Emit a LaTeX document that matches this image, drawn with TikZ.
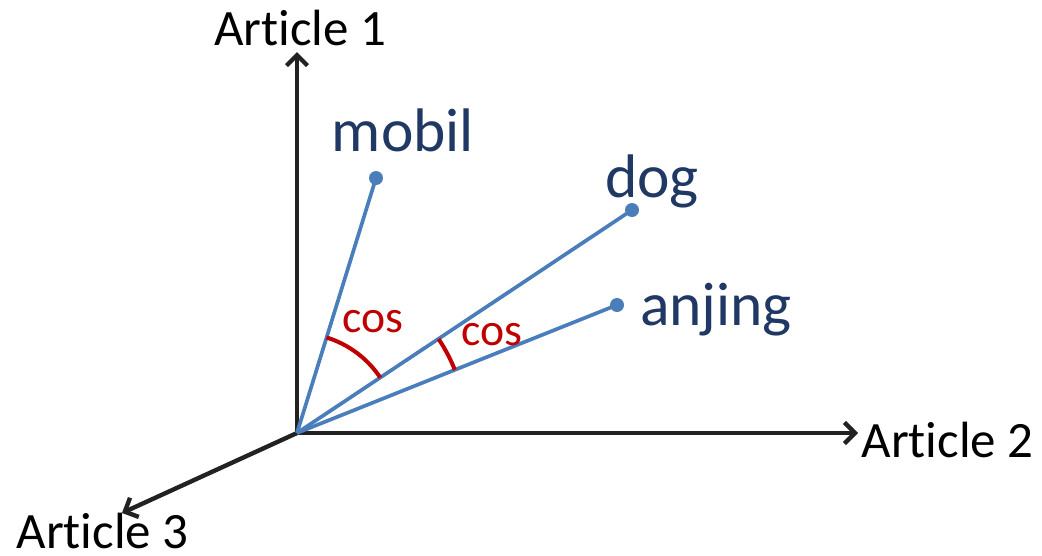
\documentclass[tikz,border=0pt]{standalone}
\usepackage{fontspec}
\setmainfont{Carlito}[Ligatures={NoCommon}]
\usetikzlibrary{arrows.meta}
\definecolor{vecblue}{RGB}{74,126,187}
\definecolor{wordblue}{RGB}{31,56,100}
\definecolor{cosred}{RGB}{192,0,0}
\tikzset{
  axis/.style={line width=2.5pt, draw={rgb,255:red,34;green,34;blue,34}, -{Straight Barb[length=6pt,width=12pt]}},
  vec/.style={line width=2.1pt, vecblue},
  wordlbl/.style={anchor=base, text=wordblue, font=\fontsize{35}{36}\selectfont, inner sep=0pt},
  axlbl/.style={anchor=base, font=\fontsize{29}{30}\selectfont, inner sep=0pt},
  coslbl/.style={anchor=base, text=cosred, font=\fontsize{26}{27}\selectfont, inner sep=0pt},
  angarc/.style={line width=2.3pt, cosred}
}
\begin{document}
\begin{tikzpicture}
    \useasboundingbox (-5.94,-2.44) rectangle (14.9,8.66);

    % axes
    \coordinate (o) at (0,0);
    \coordinate (a1) at (0,7.62);
    \coordinate (a2) at (11.22,0);
    \coordinate (a3) at (-3.5,-1.6);
    \draw[axis] (o) -- (a1);
    \draw[axis] (o) -- (a2);
    \draw[axis] (o) -- (a3);

    \node[axlbl] (l1) at (0.06,7.76) {Article 1};
    \node[axlbl] (l2) at (13.01,-0.48) {Article 2};
    \node[axlbl] (l3) at (-3.89,-2.3) {Article 3};

    % word vectors
    \coordinate (mobil) at (1.58,5.1);
    \coordinate (dog) at (6.7,4.46);
    \coordinate (anjing) at (6.4,2.56);
    \draw[vec] (o) -- (mobil);
    \draw[vec] (o) -- (dog);
    \draw[vec] (o) -- (anjing);
    \fill[vecblue] (mobil) circle (0.14);
    \fill[vecblue] (dog) circle (0.14);
    \fill[vecblue] (anjing) circle (0.14);

    \node[wordlbl] (wmobil) at (2.12,5.64) {mobil};
    \node[wordlbl] (wdog) at (7.1,4.72) {dog};
    \node[wordlbl] (wanjing) at (8.38,2.16) {anjing};

    % angles
    \draw[angarc] (72.8:2) arc (72.8:33.6:2);
    \draw[angarc] (33.6:3.4) arc (33.6:21.8:3.4);
    \node[coslbl] (c1) at (1.51,2.02) {cos};
    \node[coslbl] (c2) at (3.9,1.76) {cos};
\end{tikzpicture}
\end{document}
